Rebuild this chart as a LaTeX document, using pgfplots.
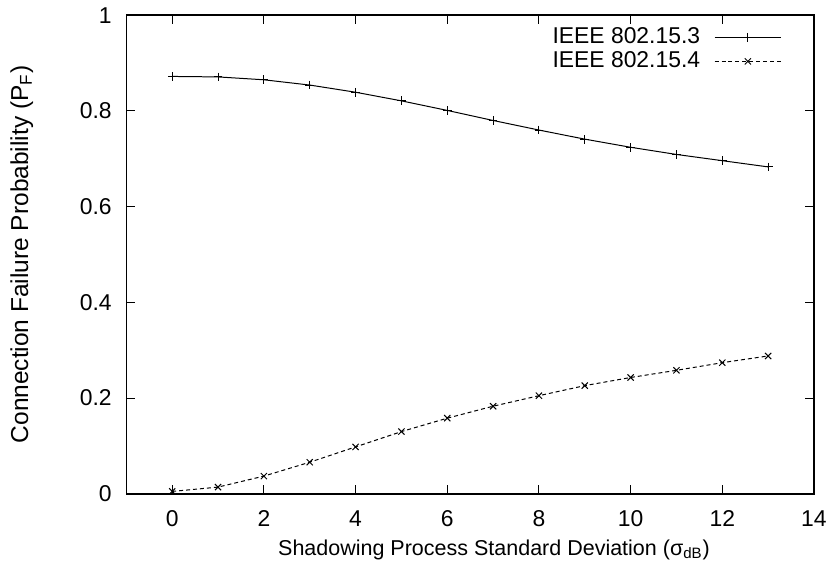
\documentclass[border=0pt]{standalone}
\usepackage{fontspec}
\setmainfont{Liberation Sans}
\usepackage{pgfplots}
\pgfplotsset{compat=1.18}
\begin{document}
\fontsize{11}{13.2}\selectfont
\begin{tikzpicture}
\begin{axis}[
  scale only axis, width=345.5pt, height=240.5pt,
  xmin=-1, xmax=14, ymin=0, ymax=1,
  xtick={0,2,...,14}, ytick={0,0.2,0.4,0.6,0.8,1},
  yticklabels={0,0.2,0.4,0.6,0.8,1},
  tick align=inside, major tick length=4.5pt,
  xtick pos=both, ytick pos=both,
  axis line style={line width=0.7pt},
  tick style={line width=0.5pt, black},
  /pgf/number format/assume math mode=true,
  tick label style={font=\fontsize{11.5}{13.8}\selectfont},
  xticklabel style={yshift=-4.5pt},
  yticklabel style={xshift=-3.5pt},
  xlabel={Shadowing Process Standard Deviation (σ\textsubscript{dB})},
  ylabel={Connection Failure Probability (P\textsubscript{F})},
  xlabel style={font=\fontsize{10.8}{13}\selectfont, at={(axis description cs:0.5,0)}, anchor=center, yshift=-28pt, xshift=12pt},
  ylabel style={font=\fontsize{12.3}{14.8}\selectfont, at={(axis description cs:0,0.5)}, anchor=center, yshift=52.5pt},
  legend style={draw=none, fill=none, at={(rel axis cs:1,1)}, xshift=-16pt, yshift=-5pt, anchor=north east,
    font=\fontsize{11.5}{13.8}\selectfont, row sep=0.5pt, inner sep=0pt, column sep=6pt, nodes={inner sep=1pt}},
  legend cell align=right, legend plot pos=right,
  legend image code/.code={\draw[mark repeat=2,mark phase=2] plot coordinates {(0pt,0pt) (16.75pt,0pt) (33.5pt,0pt)};},
]
\addplot[black, line width=0.5pt, mark=+, mark size=2.2pt, mark options={solid}] coordinates {
(0,0.872) (1,0.871) (2,0.865) (3,0.854) (4,0.839) (5,0.821) (6,0.801) (7,0.780) (8,0.760) (9,0.741) (10,0.724) (11,0.709) (12,0.696) (13,0.683)};
\addlegendentry{IEEE 802.15.3}
\addplot[black, line width=0.5pt, dash pattern=on 2pt off 1.5pt, mark=x, mark size=2.2pt, mark options={solid}] coordinates {
(0,0.005) (1,0.014) (2,0.037) (3,0.066) (4,0.098) (5,0.130) (6,0.158) (7,0.183) (8,0.205) (9,0.226) (10,0.243) (11,0.258) (12,0.274) (13,0.288)};
\addlegendentry{IEEE 802.15.4}
\end{axis}
\path (-63.5pt,-37.5pt) rectangle (353.5pt,248pt);
\end{tikzpicture}
\end{document}
